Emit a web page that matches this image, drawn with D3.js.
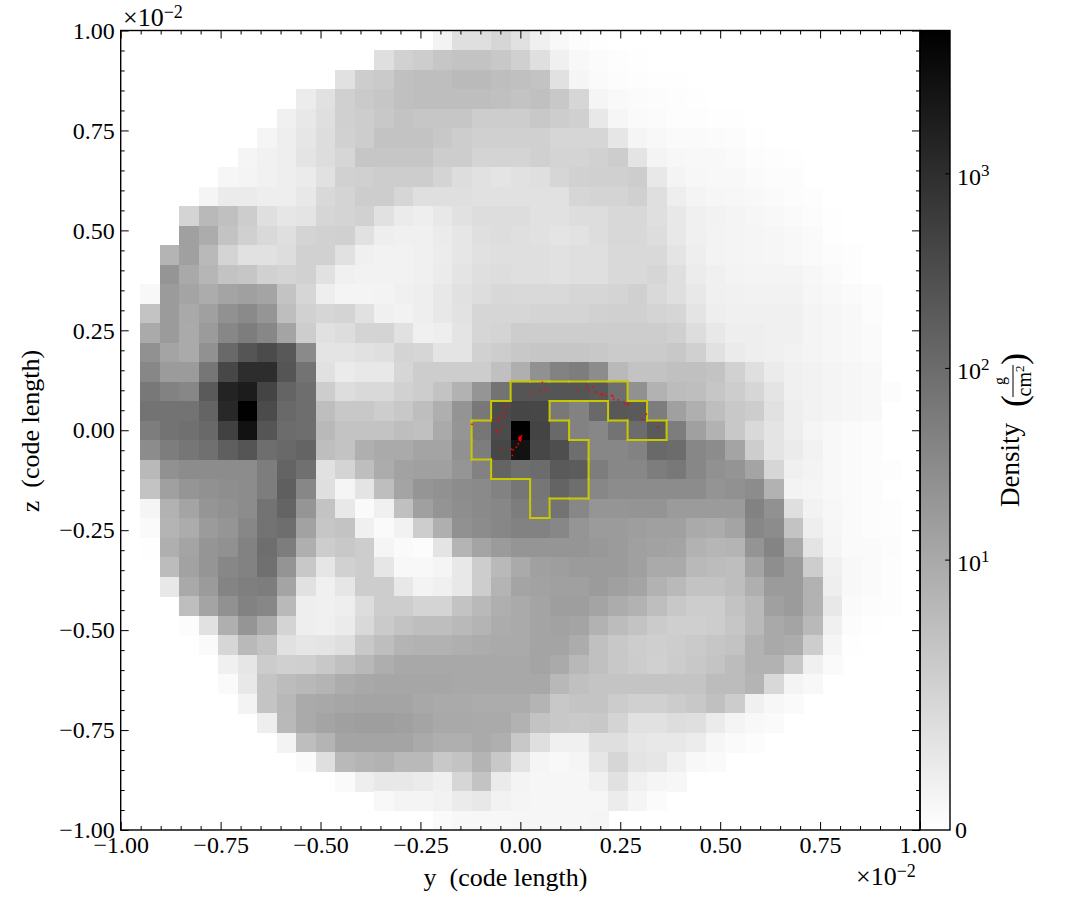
<!DOCTYPE html>
<html>
<head>
<meta charset="utf-8">
<script src="https://cdn.jsdelivr.net/npm/d3@7"></script>
<style>
  body { margin: 0; background: #fff; }
  text { font-family: "Liberation Serif", serif; fill: #000; }
</style>
</head>
<body>
<div id="canvas"></div>
<script>
// first filled column of every row, top row first
const firstColumn = [16,13,11,9,8,7,6,5,4,3,3,2,2,1,1,1,1,1,1,1,1,1,1,1,1,1,1,2,2,3,3,4,5,5,6,7,8,9,11,13,16]

// projected density per row
const densityRows = [
  [.24,1,1,1.5,.88,.32,.13,.05,.02],
  [1,1.9,2.3,3.1,3.5,3.5,2.9,2,1,.32,.13,.07,.03,.02],
  [.88,2.3,2.6,4,4.4,4.4,5.1,5.1,4.4,4,3.5,.88,.19,.09,.05,.03,.02,.02],
  [.44,.88,2,2.6,3.1,4,4.4,4.4,4.4,4.4,4,3.5,4,2.9,1.5,.19,.11,.07,.05,.03,.02],
  [.32,.58,1,2,2.3,2.9,3.5,3.1,3.1,3.1,2.3,2.3,2.3,2.9,2.3,2,.58,.17,.09,.07,.03,.03,.02,.02],
  [.19,.38,.66,1.1,1.9,2.3,3.5,3.5,3.5,2.9,2.3,2,2,2,2,1.5,1.5,1.5,.66,.19,.13,.09,.09,.07,.05,.02],
  [.19,.29,.38,.75,1.1,1.5,3.1,3.1,3.1,3.1,2.3,2.3,1.7,1.7,1.7,2,1.7,1.7,1.9,2.3,.75,.22,.15,.13,.13,.09,.05,.03,.02],
  [.17,.22,.29,.38,.47,.88,1.9,2,2.3,2.3,2.3,1.7,1.1,.88,.75,.88,1,1.5,1.9,2,2,2.3,.58,.22,.15,.13,.13,.09,.05,.05],
  [.19,.47,.47,.38,.38,.58,1.3,1.7,2.3,2.3,1.5,1,1,1,.88,.88,.88,.88,.88,1.5,1.7,1.7,2,1,.38,.22,.17,.15,.13,.09,.05,.03],
  [1.7,5.3,4,2.3,1,.66,.75,1.5,1.7,1.9,.88,.47,.38,.58,.88,1.1,1.1,1.1,.88,.88,1.1,1.1,1.4,1.4,1,.58,.32,.27,.22,.17,.13,.09,.05,.02],
  [14,8.9,3.5,2,1.3,1,1.7,1.9,2,.88,.38,.32,.32,.47,.66,1,1.1,1,.88,.75,.83,1.1,1.4,1.4,1.1,.58,.32,.24,.22,.19,.17,.13,.09,.02],
  [6.5,14,5.3,1.7,.88,.88,1.1,1.9,1.9,.88,.32,.27,.27,.32,.44,.66,.88,1,1,1,.88,1,1,1.3,1.3,1.3,.75,.38,.24,.22,.19,.17,.13,.09,.05,.03],
  [21,10,6,3.5,3.1,1.9,1.7,1.9,.88,.32,.27,.27,.27,.32,.47,.75,1,1.1,1,1,.88,1,1,1.3,1.3,1.5,1,.44,.32,.24,.22,.22,.22,.15,.09,.03],
  [.13,17,12,8.9,12,14,12,3.5,1.5,.38,.22,.22,.24,.32,.38,.58,.88,1.1,1.4,1.3,1.3,1.3,1.5,1.5,1.7,2,1.3,1,.58,.32,.29,.27,.27,.27,.17,.13,.09,.05],
  [3.5,17,10,14,25,32,21,4.4,1.9,1.5,1.7,.88,.32,.27,.38,.58,.83,1.5,1.5,1.5,1.7,1.7,1.7,1.9,2,2,1.7,1.5,.75,.38,.32,.32,.32,.32,.22,.17,.13,.05],
  [9.6,17,9.6,17,36,53,36,12,2.3,.88,1.1,1.7,1.7,.88,.32,.38,.75,1.5,1.7,2.3,2.3,2.3,2.3,2.3,2.3,2.3,2.3,2,1.1,.58,.38,.38,.32,.32,.22,.17,.13,.09],
  [25,12,9.6,25,110,232,340,208,32,.75,.75,.88,1,1.7,1.5,.75,.75,1.9,2.3,2.9,3.1,3.1,3.1,2.9,2.5,2.5,2.5,2.9,2,.88,.47,.38,.32,.27,.22,.17,.13,.09],
  [36,17,17,68,385,1030,1030,232,76,.88,.47,.58,.58,1.5,2.3,2.3,2.3,2.3,4,7.9,25,44,53,30,5.3,3.5,3.5,4,4,3.5,1.9,1,.47,.32,.27,.22,.17,.13],
  [63,44,36,193,1500,1950,440,133,92,2.3,1.1,1.3,1.3,1.9,2.3,3.5,7.1,21,76,232,232,232,232,208,92,25,7.1,4.7,4.4,3.1,2.3,1.5,.75,.32,.27,.22,.17,.13,.05],
  [76,76,76,133,1240,5200,340,110,92,4.4,2.9,2.9,2.3,2.9,4.4,7.9,22,63,340,408,385,63,44,110,208,193,53,14,7.9,4.4,2.9,2.3,.88,.38,.27,.22,.17,.13],
  [53,76,85,110,495,2800,232,98,92,5.3,3.5,3.5,3.5,4.4,4,9.6,21,68,340,5440,440,110,44,36,76,98,193,53,14,7.1,2.9,1.3,.75,.38,.19,.13,.09,.05],
  [30,53,68,85,160,232,92,110,133,4.4,3.5,7.9,9.6,9.6,12,12,25,53,385,2800,385,305,92,36,36,44,110,98,36,30,12,2.3,.75,.47,.27,.13,.09,.05],
  [5.3,25,30,30,30,30,53,133,85,.88,1.7,4.4,8.9,13,14,14,21,44,133,92,98,193,178,53,36,36,53,63,36,25,22,12,1.5,.32,.24,.13,.09,.05,.03],
  [3.5,14,21,25,28,30,53,160,36,1,.19,.75,4.4,12,21,25,30,32,44,68,68,133,92,36,30,30,30,30,30,22,25,30,7.1,.24,.19,.13,.09,.05],
  [.19,7.1,12,21,25,30,76,133,21,3.5,.58,.09,.32,4,14,22,28,32,36,53,63,76,36,21,21,22,22,17,17,17,17,44,25,1,.27,.15,.09,.05,.03],
  [.09,6.5,8.9,17,21,36,76,92,13,3.1,3.5,.32,.09,.27,2.3,7.9,25,30,36,44,44,36,21,17,17,15,14,14,9.6,8.9,12,36,30,3.5,.38,.17,.09,.05,.03],
  [.02,7.9,12,21,25,44,92,53,7.9,2.3,2.9,2.3,.19,.09,.05,.75,6.5,12,17,21,21,21,21,19,17,14,13,12,7.1,6,6.5,22,40,9.6,.75,.19,.09,.09,.05],
  [4.7,13,21,36,44,85,22,2.9,.66,1.9,2.3,.66,.13,.13,.19,.58,2.3,5.3,9.6,14,15,17,17,17,14,9.6,9.6,5.3,4.7,4.4,12,28,17,2.3,.32,.13,.09,.03],
  [.58,10,17,40,48,53,12,.88,.32,.66,2.3,2.3,.58,.24,.32,.58,2.3,6.5,12,13,14,14,17,14,12,7.1,5.3,3.5,3.5,4.4,7.9,17,17,7.1,.38,.13,.09,.03],
  [4.4,12,25,44,36,5.3,.38,.32,.38,1.1,2.3,2.3,1.7,1.7,3.5,5.3,7.9,9.6,12,15,15,12,8.9,7.1,4.4,2.9,2.3,2.3,3.5,5.3,14,17,7.1,.58,.09,.05,.03],
  [.05,.88,7.9,21,9.6,1.7,.38,.32,.47,1.3,2.6,3.5,4.4,4.4,5.3,6.5,8.9,9.6,12,13,12,7.1,4.7,3.5,2.5,2.1,2.1,2.3,3.1,5.3,10,12,5.3,.32,.05,.02],
  [.09,1.5,5.3,3.5,.88,.66,.75,1,2.9,4.4,6.5,7.1,7.1,7.9,8.9,9.6,9.6,12,12,8.9,4,2.9,2.3,2.1,2.3,2.6,3.1,3.5,7.1,10,8.9,2.3,.19,.02],
  [.32,.66,2.4,2,2.1,2.9,4,5.6,8.2,10.4,10.4,10.4,10.4,10.4,10.4,10.4,12,9.6,5.6,4,2.9,2.4,2,2.4,2.9,3.4,4.7,7.1,7.1,2.9,.32,.09],
  [.09,.58,3.4,4.7,5.6,6.5,8.9,10.4,11.2,11.2,11.2,11.2,10.4,10.4,10.4,10.4,10.4,5.6,4,3.4,3.4,3.4,3.4,3.4,3.4,4.7,4.7,6.5,1.4,.22,.13],
  [.24,3.4,5.6,9.6,10.4,11.2,12,12,12,10.4,9.6,9.6,8.9,8.9,8.9,6.5,2.9,3.4,3.4,2.4,2,2,2.4,2.9,4,2.4,.32,.15,.09],
  [.38,5.3,9.6,12,14,15,15,14,12,10,10,9.6,9.6,7.1,3.5,2.9,2.6,2.9,1.7,.88,.88,1.1,1,.47,.22,.13,.09],
  [.24,4.4,6.5,12,12,12,12,9.6,7.9,7.9,9.6,7.9,2.9,1,.32,.32,1,1,.66,.58,.58,.44,.17,.09,.05],
  [.09,1,5.3,6.5,7.1,5.3,5.3,2.9,3.5,6.5,2.9,.75,.19,.13,.19,.66,1.5,.75,.66,.32,.13,.09],
  [.09,.38,.58,.58,.47,.32,1.5,3.5,.47,.22,.17,.17,.17,.32,.88,.32,.19,.15],
  [.13,.22,.22,.27,.47,.58,.27,.19,.17,.17,.17,.17,.44,.19,.07],
  [.09,.15,.15,.15,.17,.17,.17,.17,.19]
]

// cells inside the yellow contour: [row, first column, last column]
const contourCells = [
  [18,20,25],
  [19,19,21],[19,25,26],
  [20,18,22],[20,26,27],
  [21,18,23],
  [22,19,23],
  [23,21,23],
  [24,21,21]
]

// red particles, y and z in the same units as the axes
const particleY = [.055,.026,.050,.064,-.035,-.039,-.045,-.040,-.055,-.055,-.070,-.121,-.045,-.060,-.057,-.001,.001,-.003,-.005,-.010,-.051,-.022,-.018,-.020,.145,.167,.172,.183,.190,.200,.205,.205,.215,.228,.232,.234,.245,.261,.268,.271,.315,.306,.345,-.002,.002,-.001,.000,-.004,.003]
const particleZ = [.120,.095,.100,.102,.061,.056,.045,.035,.030,.025,.025,.015,.008,-.001,-.005,-.020,-.018,-.024,-.034,-.042,-.045,-.047,-.049,-.063,.100,.108,.100,.108,.095,.091,.091,.086,.086,.087,.085,.078,.076,.066,.065,.065,.040,.027,.008,-.022,-.022,-.016,-.026,-.019,-.014]

const majorTicks = [-1,-.75,-.5,-.25,0,.25,.5,.75,1]
const minorTicks = d3.range(-20,21).map(d => d*.05).filter(d => !majorTicks.some(m => Math.abs(m-d) < 1e-6))
const colorbarTicks = [10,100,1000]
const densityMax = 5440
const nCells = 41

const plotLeft = 120.7, plotRight = 920, plotTop = 30.5, plotBottom = 830
const barRight = 950

const svg = d3.select("#canvas")
  .append("svg")
  .attr("width", 1085)
  .attr("height", 920)
  .style("display", "block")

const xScale = d3.scaleLinear().domain([-1,1]).range([plotLeft,plotRight])
const yScale = d3.scaleLinear().domain([-1,1]).range([plotBottom,plotTop])
const cellSize = 2/nCells

// matplotlib style symlog norm, the bar is linear in grey along its height
const colorScale = d3.scaleSymlog().constant(.43).domain([0,densityMax]).range(["#ffffff","#000000"])
const barScale = d3.scaleSymlog().constant(.43).domain([0,densityMax]).range([plotBottom,plotTop])

function colX(i){ return xScale(-1 + i*cellSize) }
function rowY(j){ return yScale(1 - j*cellSize) }

function drawCells(){
  let cells = []
  densityRows.forEach((row,j) => {
    row.forEach((value,k) => cells.push({row:j, col:firstColumn[j]+k, value:value}))
  })
  svg.append("g")
    .attr("shape-rendering","crispEdges")
    .selectAll("rect")
    .data(cells)
    .join("rect")
    .attr("x", d => colX(d.col))
    .attr("y", d => rowY(d.row))
    .attr("width", d => colX(d.col+1)-colX(d.col)+.5)
    .attr("height", d => rowY(d.row+1)-rowY(d.row)+.5)
    .attr("fill", d => colorScale(d.value))
}

function drawContour(){
  let inside = new Set()
  contourCells.forEach(c => {
    for (let i=c[1]; i<=c[2]; i++) inside.add(c[0]+"_"+i)
  })
  let edges = []
  inside.forEach(key => {
    let [j,i] = key.split("_").map(Number)
    if (!inside.has((j-1)+"_"+i)) edges.push([i,j,i+1,j])
    if (!inside.has((j+1)+"_"+i)) edges.push([i,j+1,i+1,j+1])
    if (!inside.has(j+"_"+(i-1))) edges.push([i,j,i,j+1])
    if (!inside.has(j+"_"+(i+1))) edges.push([i+1,j,i+1,j+1])
  })
  svg.append("g")
    .selectAll("line")
    .data(edges)
    .join("line")
    .attr("x1", d => colX(d[0]))
    .attr("y1", d => rowY(d[1]))
    .attr("x2", d => colX(d[2]))
    .attr("y2", d => rowY(d[3]))
    .attr("stroke","#c8c800")
    .attr("stroke-width",2)
    .attr("stroke-linecap","square")
}

function drawParticles(){
  svg.append("g")
    .selectAll("circle")
    .data(particleY)
    .join("circle")
    .attr("cx", d => xScale(d))
    .attr("cy", (d,i) => yScale(particleZ[i]))
    .attr("r",.9)
    .attr("fill","#ff0000")
}

function styleAxis(g){
  g.select(".domain").remove()
  g.selectAll("line").attr("stroke","#000").attr("stroke-width",1)
  g.selectAll("text").attr("font-size",24).attr("font-family","Liberation Serif").attr("fill","#000")
}

function tickLabel(d){ return d3.format(".2f")(d).replace("-","\u2212") }

function drawAxes(){
  // inward ticks on all four sides
  const sides = [
    [d3.axisBottom(xScale), [0,plotBottom], true],
    [d3.axisTop(xScale), [0,plotTop], false],
    [d3.axisLeft(yScale), [plotLeft,0], true],
    [d3.axisRight(yScale), [plotRight,0], false]
  ]
  sides.forEach(s => {
    let major = s[0].tickValues(majorTicks).tickSize(-8).tickSizeOuter(0)
      .tickFormat(s[2] ? tickLabel : "")
      .tickPadding(6)
    svg.append("g").attr("transform",`translate(${s[1][0]},${s[1][1]})`).call(major).call(styleAxis)
    let minor = s[0].tickValues(minorTicks).tickSize(-4).tickFormat("")
    svg.append("g").attr("transform",`translate(${s[1][0]},${s[1][1]})`).call(minor).call(styleAxis)
  })

  svg.append("rect")
    .attr("x",plotLeft).attr("y",plotTop)
    .attr("width",plotRight-plotLeft).attr("height",plotBottom-plotTop)
    .attr("fill","none").attr("stroke","#000").attr("stroke-width",1.4)
}

function drawColorbar(){
  let grad = svg.append("defs").append("linearGradient")
    .attr("id","densityGrad")
    .attr("x1",0).attr("x2",0).attr("y1",1).attr("y2",0)
  grad.append("stop").attr("offset",0).attr("stop-color",colorScale(0))
  grad.append("stop").attr("offset",1).attr("stop-color",colorScale(densityMax))

  svg.append("rect")
    .attr("x",plotRight).attr("y",plotTop)
    .attr("width",barRight-plotRight).attr("height",plotBottom-plotTop)
    .attr("fill","url(#densityGrad)")
    .attr("stroke","#000").attr("stroke-width",1.4)

  svg.append("g")
    .selectAll("line")
    .data(colorbarTicks)
    .join("line")
    .attr("x1",barRight-5).attr("x2",barRight)
    .attr("y1",d => barScale(d)).attr("y2",d => barScale(d))
    .attr("stroke","#000")

  let labels = svg.append("g")
    .selectAll("text")
    .data(colorbarTicks)
    .join("text")
    .attr("x",barRight+7)
    .attr("y",d => barScale(d)+11)
    .attr("font-size",24)
  labels.append("tspan").text("10")
  labels.append("tspan").attr("dy",-9).attr("font-size",17).text(d => Math.log10(d))

  svg.append("text").attr("x",barRight+5).attr("y",plotBottom+8).attr("font-size",24).text("0")
}

function drawLabels(){
  svg.append("text")
    .attr("x",505.5).attr("y",886)
    .attr("text-anchor","middle")
    .attr("font-size",26)
    .attr("xml:space","preserve")
    .text("y  (code length)")

  svg.append("text")
    .attr("transform","translate(39,431) rotate(-90)")
    .attr("text-anchor","middle")
    .attr("font-size",26)
    .attr("xml:space","preserve")
    .text("z  (code length)")

  // offset text of both axes
  const offsets = [[123,26],[856,885]]
  offsets.forEach(p => {
    let t = svg.append("text").attr("x",p[0]).attr("y",p[1]).attr("font-size",26)
    t.append("tspan").text("\u00d710")
    t.append("tspan").attr("dy",-8).attr("font-size",18).text("\u22122")
  })

  // colorbar label, g over cm2 in big brackets
  svg.append("text")
    .attr("transform","translate(1019,507) rotate(-90)")
    .attr("font-size",27)
    .text("Density")
  svg.append("text")
    .attr("transform","translate(1026,407) rotate(-90)")
    .attr("font-size",36)
    .text("(")
  svg.append("text")
    .attr("transform","translate(1026,365) rotate(-90)")
    .attr("font-size",36)
    .text(")")
  svg.append("text")
    .attr("transform","translate(1005,381) rotate(-90)")
    .attr("font-size",16)
    .attr("text-anchor","middle")
    .text("g")
  svg.append("line")
    .attr("x1",1013).attr("x2",1013)
    .attr("y1",365).attr("y2",397)
    .attr("stroke","#000").attr("stroke-width",1)
  let cm = svg.append("text")
    .attr("transform","translate(1031,381) rotate(-90)")
    .attr("font-size",20)
    .attr("text-anchor","middle")
  cm.append("tspan").text("cm")
  cm.append("tspan").attr("dy",-7).attr("font-size",13).text("2")
}

drawCells()
drawContour()
drawParticles()
drawColorbar()
drawAxes()
drawLabels()
</script>
</body>
</html>
